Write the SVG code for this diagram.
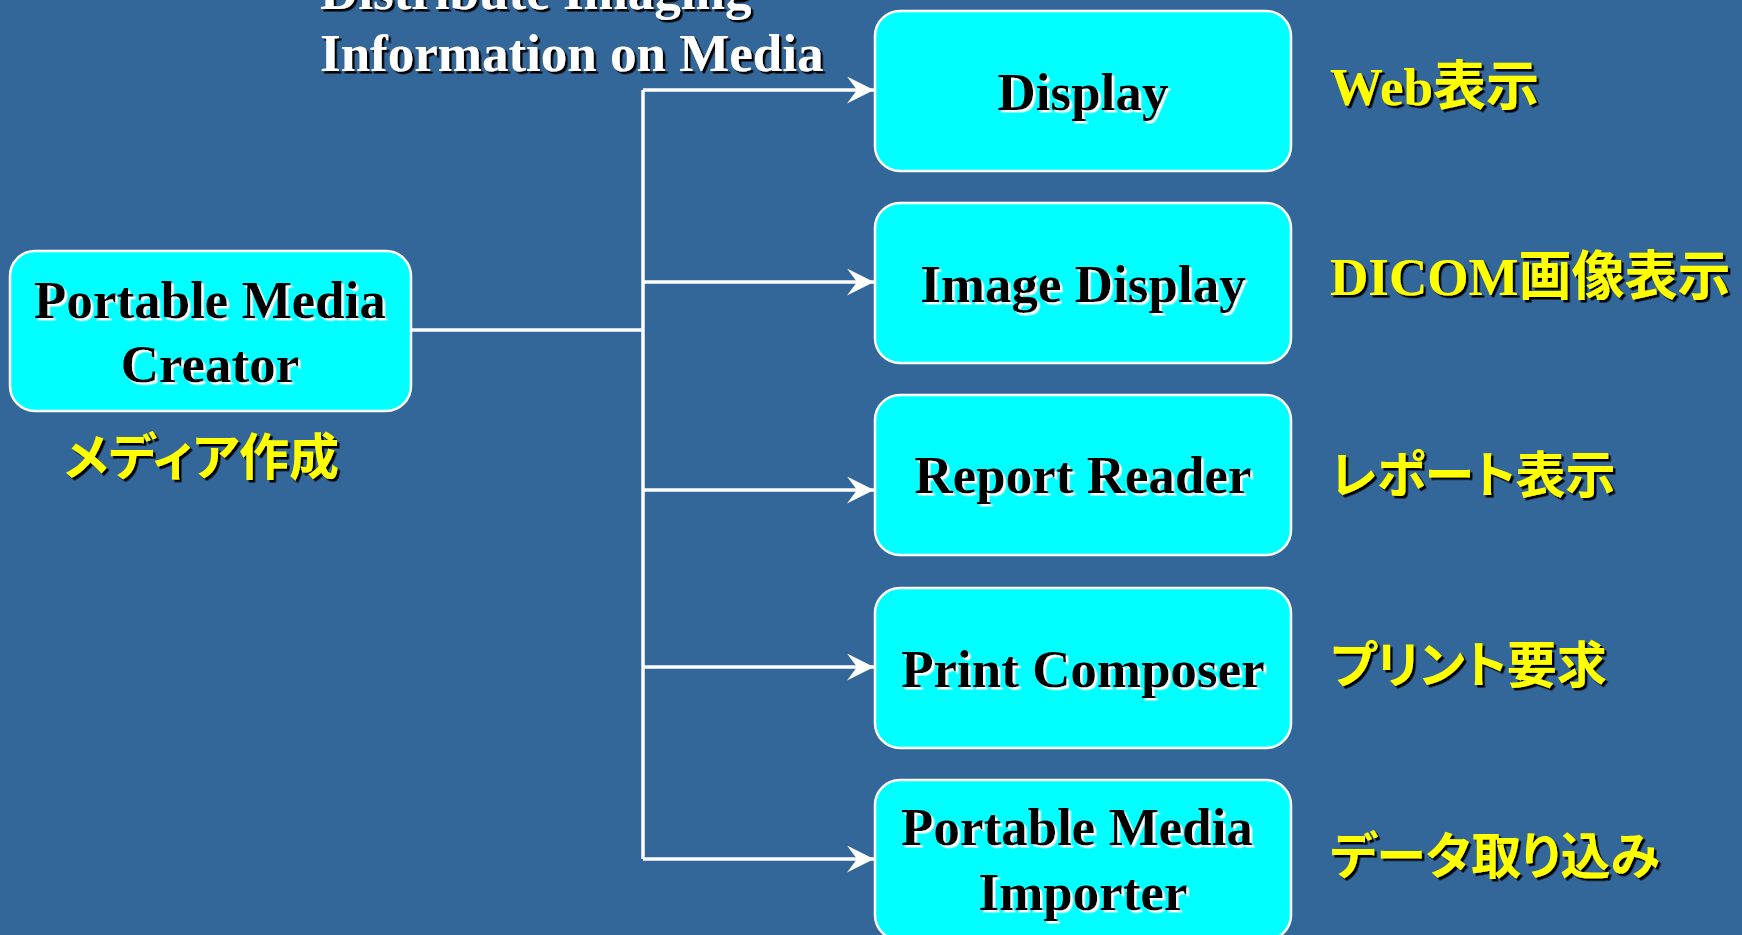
<svg xmlns="http://www.w3.org/2000/svg" width="1742" height="935" viewBox="0 0 1742 935">
  <defs>
    <filter id="shW" x="-5%" y="-20%" width="110%" height="140%">
      <feDropShadow dx="2.5" dy="2.5" stdDeviation="0" flood-color="#ffffff" flood-opacity="1"/>
    </filter>
    <filter id="shK" x="-5%" y="-20%" width="110%" height="140%">
      <feDropShadow dx="2.5" dy="2.5" stdDeviation="0" flood-color="#000000" flood-opacity="1"/>
    </filter>
    <marker id="arrow" markerUnits="userSpaceOnUse" markerWidth="28" markerHeight="27" refX="27" refY="13.5" orient="auto" viewBox="0 0 28 27">
      <path d="M0,0 L27,13.5 L0,27 L10,13.5 Z" fill="#ffffff"/>
    </marker>
    <style>
      .box { fill: #00ffff; stroke: #ffffff; stroke-width: 2.5; }
      .lbl { font-family: "Liberation Serif", "Times New Roman", serif; font-weight: bold; font-size: 53px; fill: #000000; text-anchor: middle; filter: url(#shW); }
      .title { font-family: "Liberation Serif", "Times New Roman", serif; font-weight: bold; font-size: 53px; fill: #ffffff; filter: url(#shK); }
      .jp { font-family: "Liberation Serif", "Noto Sans CJK JP", sans-serif; font-weight: bold; font-size: 53px; fill: #ffff00; filter: url(#shK); font-feature-settings: "palt"; }
      .kana { font-size: 50px; }
      .conn { fill: none; stroke: #ffffff; stroke-width: 3.5; }
    </style>
  </defs>
  <rect x="0" y="0" width="1742" height="935" fill="#336699"/>

  <g id="title">
    <text class="title" x="320" y="9">Distribute Imaging</text>
    <text class="title" x="320" y="71">Information on Media</text>
  </g>

  <g id="connectors">
    <path class="conn" d="M411,330 L643,330"/>
    <path class="conn" d="M643,90 L643,859"/>
    <path class="conn" d="M643,90 L874,90" marker-end="url(#arrow)"/>
    <path class="conn" d="M643,282 L874,282" marker-end="url(#arrow)"/>
    <path class="conn" d="M643,490 L874,490" marker-end="url(#arrow)"/>
    <path class="conn" d="M643,667 L874,667" marker-end="url(#arrow)"/>
    <path class="conn" d="M643,859 L874,859" marker-end="url(#arrow)"/>
  </g>

  <g id="creator">
    <rect class="box" x="10" y="251" width="401" height="160" rx="25" ry="25"/>
    <text class="lbl" x="210" y="318">Portable Media</text>
    <text class="lbl" x="210" y="382">Creator</text>
    <text class="jp kana" x="64" y="475">メディア作成</text>
  </g>

  <g id="display">
    <rect class="box" x="875" y="11" width="416" height="160" rx="25" ry="25"/>
    <text class="lbl" x="1083" y="110">Display</text>
    <text class="jp" x="1330" y="105">Web表示</text>
  </g>

  <g id="image-display">
    <rect class="box" x="875" y="203" width="416" height="160" rx="25" ry="25"/>
    <text class="lbl" x="1083" y="302">Image Display</text>
    <text class="jp" x="1330" y="295">DICOM画像表示</text>
  </g>

  <g id="report-reader">
    <rect class="box" x="875" y="395" width="416" height="160" rx="25" ry="25"/>
    <text class="lbl" x="1083" y="493">Report Reader</text>
    <text class="jp kana" x="1330" y="493">レポート表示</text>
  </g>

  <g id="print-composer">
    <rect class="box" x="875" y="588" width="416" height="160" rx="25" ry="25"/>
    <text class="lbl" x="1083" y="687">Print Composer</text>
    <text class="jp kana" x="1330" y="683">プリント要求</text>
  </g>

  <g id="media-importer">
    <rect class="box" x="875" y="780" width="416" height="160" rx="25" ry="25"/>
    <text class="lbl" x="1077" y="845">Portable Media</text>
    <text class="lbl" x="1083" y="910">Importer</text>
    <text class="jp kana" x="1330" y="874">データ取り込み</text>
  </g>
</svg>
